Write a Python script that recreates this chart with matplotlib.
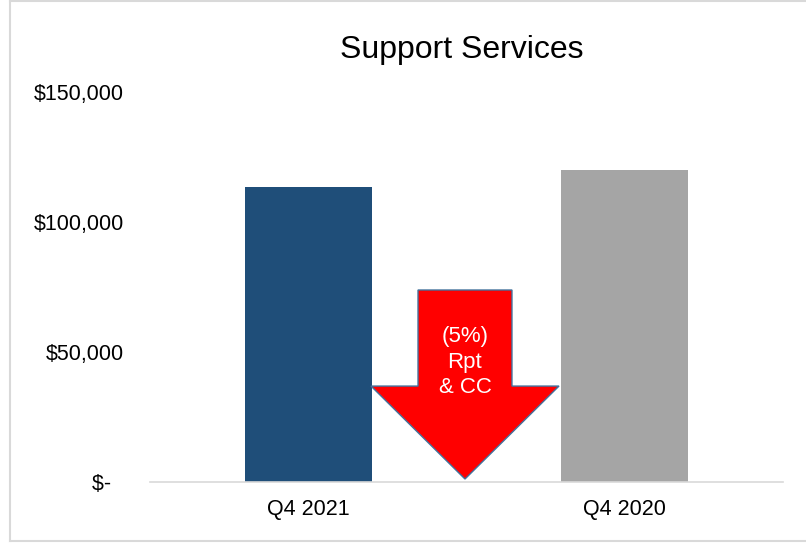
import matplotlib.pyplot as plt
from matplotlib.patches import Polygon
from matplotlib.lines import Line2D

# --- datos ---
categorias = ['Q4 2021', 'Q4 2020']
valores = [113500, 120000]
colores = ['#1F4E79', '#A5A5A5']
y_ticks = [0, 50000, 100000, 150000]
y_labels = ['$-  ', '$50,000', '$100,000', '$150,000']
titulo = 'Support Services'
texto_flecha = '(5%)\nRpt\n& CC'

plt.rcParams['font.family'] = ['Liberation Sans', 'DejaVu Sans']

fig = plt.figure(figsize=(8.06, 5.43), dpi=100)
ax = fig.add_axes([0.1861, 0.1123, 0.7854, 0.7183])

x = list(range(len(categorias)))
ax.bar(x, valores, width=0.40, color=colores, zorder=2)

ax.set_xlim(-0.5, 1.5)
ax.set_ylim(0, 150000)
ax.set_xticks(x)
ax.set_xticklabels(categorias, fontsize=15.5)
ax.set_yticks(y_ticks)
ax.set_yticklabels(y_labels, fontsize=15.5)
ax.tick_params(axis='both', length=0)
ax.tick_params(axis='y', pad=19)
ax.tick_params(axis='x', pad=12)

for lado in ['top', 'right', 'left']:
    ax.spines[lado].set_visible(False)
ax.spines['bottom'].set_color('#D9D9D9')
ax.spines['bottom'].set_linewidth(1.2)

# titulo
fig.text(0.573, 0.908, titulo, ha='center', va='center', fontsize=23)

# flecha roja (en coordenadas del eje)
cx = 0.4976
sw, hw = 0.0742, 0.1485
y_top, y_base, y_tip = 0.4923, 0.246, 0.0077
pts = [(cx - sw, y_top), (cx + sw, y_top), (cx + sw, y_base), (cx + hw, y_base),
       (cx, y_tip), (cx - hw, y_base), (cx - sw, y_base)]
flecha = Polygon(pts, closed=True, transform=ax.transAxes, facecolor='#FF0000',
                 edgecolor='#41719C', linewidth=1.0, zorder=3)
ax.add_patch(flecha)
ax.text(cx, 0.3077, texto_flecha, transform=ax.transAxes, ha='center', va='center',
        color='white', fontsize=16, linespacing=1.3, zorder=4)

# borde del grafico
borde = '#D9D9D9'
fig.add_artist(Line2D([10 / 806, 10 / 806], [2 / 543, 1], color=borde, lw=1.5, transform=fig.transFigure))
fig.add_artist(Line2D([10 / 806, 1], [1 - 0.8 / 543, 1 - 0.8 / 543], color=borde, lw=1.5, transform=fig.transFigure))
fig.add_artist(Line2D([10 / 806, 1], [2 / 543, 2 / 543], color=borde, lw=1.5, transform=fig.transFigure))

fig.savefig('out.png', dpi=100)
